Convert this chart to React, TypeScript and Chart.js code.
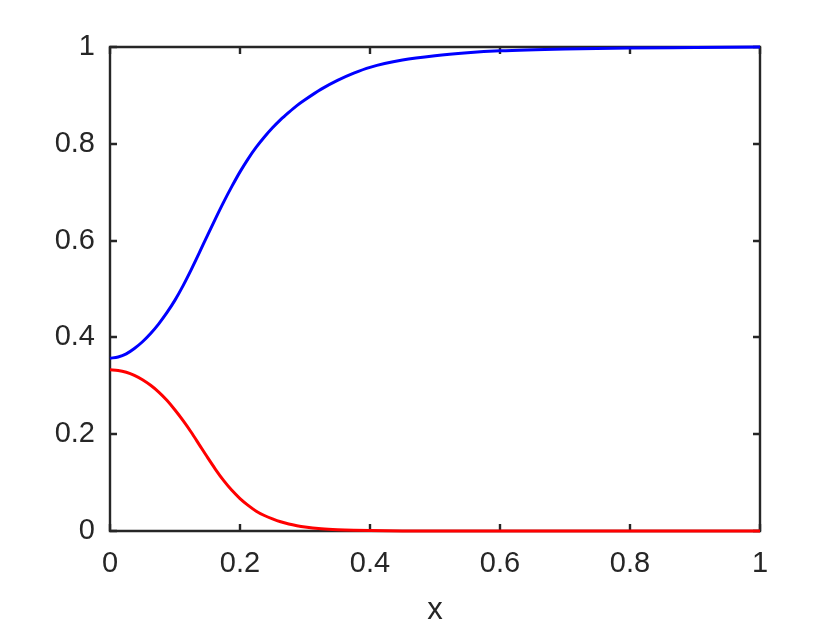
import React, { useEffect, useRef } from "react";
import { Chart, registerables } from "chart.js";

Chart.register(...registerables);

const xValues = [0, 0.0125, 0.025, 0.0375, 0.05, 0.0625, 0.075, 0.0875, 0.1, 0.1125, 0.125, 0.1375, 0.15, 0.1625, 0.175, 0.1875, 0.2, 0.2125, 0.225, 0.2375, 0.25, 0.2625, 0.275, 0.2875, 0.3, 0.325, 0.35, 0.375, 0.4, 0.45, 0.5, 0.55, 0.6, 0.7, 0.8, 0.9, 1.0];
const blueValues = [0.357, 0.3595, 0.366, 0.377, 0.391, 0.408, 0.428, 0.451, 0.477, 0.507, 0.54, 0.575, 0.611, 0.646, 0.68, 0.712, 0.742, 0.769, 0.793, 0.814, 0.833, 0.85, 0.865, 0.879, 0.891, 0.913, 0.931, 0.946, 0.958, 0.973, 0.982, 0.988, 0.992, 0.996, 0.998, 0.999, 1.0];
const redValues = [0.333, 0.3318, 0.328, 0.3215, 0.3125, 0.301, 0.287, 0.27, 0.25, 0.228, 0.204, 0.178, 0.152, 0.127, 0.104, 0.084, 0.067, 0.053, 0.041, 0.032, 0.025, 0.019, 0.0145, 0.011, 0.0083, 0.0047, 0.0026, 0.0014, 0.0008, 0.0002, 0.00005, 0, 0, 0, 0, 0, 0];
const tickValues = [0, 0.2, 0.4, 0.6, 0.8, 1];
const tickLabels = ["0", "0.2", "0.4", "0.6", "0.8", "1"];
const xTitle = "x";

const AXIS_COLOR = "#262626";
const FONT = "'Liberation Sans', Arial, Helvetica, sans-serif";

const framePlugin = {
  id: "matlabFrame",
  beforeDatasetsDraw(chart: any) {
    const { ctx, chartArea, scales } = chart;
    const left = Math.round(chartArea.left);
    const right = Math.round(chartArea.right);
    const top = Math.round(chartArea.top);
    const bottom = Math.round(chartArea.bottom);
    const tl = 7;
    ctx.save();
    ctx.strokeStyle = AXIS_COLOR;
    ctx.lineWidth = 2.4;
    ctx.lineCap = "butt";
    ctx.beginPath();
    for (const v of tickValues) {
      const px = Math.round(scales.x.getPixelForValue(v));
      ctx.moveTo(px, bottom);
      ctx.lineTo(px, bottom - tl);
      ctx.moveTo(px, top);
      ctx.lineTo(px, top + tl);
      const py = Math.round(scales.y.getPixelForValue(v));
      ctx.moveTo(left, py);
      ctx.lineTo(left + tl, py);
      ctx.moveTo(right, py);
      ctx.lineTo(right - tl, py);
    }
    ctx.stroke();
    ctx.beginPath();
    ctx.rect(left, top, right - left, bottom - top);
    ctx.stroke();
    ctx.restore();
  },
};

export default function App() {
  const canvasRef = useRef<HTMLCanvasElement | null>(null);

  useEffect(() => {
    document.body.style.margin = "0";
    const canvas = canvasRef.current;
    if (!canvas) return;
    const labelFor = (v: number) => {
      const i = tickValues.findIndex((t) => Math.abs(t - v) < 1e-9);
      return i >= 0 ? tickLabels[i] : "";
    };
    const chart = new Chart(canvas, {
      type: "line",
      data: {
        datasets: [
          {
            label: "blue",
            data: xValues.map((x, i) => ({ x, y: blueValues[i] })),
            borderColor: "#0000FF",
            borderWidth: 3,
            pointRadius: 0,
            cubicInterpolationMode: "monotone",
            fill: false,
            clip: false as any,
          },
          {
            label: "red",
            data: xValues.map((x, i) => ({ x, y: redValues[i] })),
            borderColor: "#FF0000",
            borderWidth: 3,
            pointRadius: 0,
            cubicInterpolationMode: "monotone",
            fill: false,
            clip: false as any,
          },
        ],
      },
      options: {
        responsive: false,
        animation: false,
        devicePixelRatio: 1,
        layout: { padding: { left: 0, right: 80, top: 47, bottom: 0 } },
        plugins: { legend: { display: false }, tooltip: { enabled: false } },
        scales: {
          x: {
            type: "linear",
            min: 0,
            max: 1,
            grid: { display: false, drawTicks: false, tickLength: 0 },
            border: { display: false },
            afterBuildTicks: (scale: any) => {
              scale.ticks = tickValues.map((v) => ({ value: v }));
            },
            afterFit: (scale: any) => {
              scale.height = 99;
            },
            ticks: {
              autoSkip: false,
              maxRotation: 0,
              padding: 16,
              color: AXIS_COLOR,
              font: { family: FONT, size: 29 },
              callback: (v: any) => labelFor(Number(v)),
            },
            title: {
              display: true,
              text: xTitle,
              color: AXIS_COLOR,
              font: { family: FONT, size: 31 },
              padding: { top: 0, bottom: 1 },
            },
          },
          y: {
            type: "linear",
            min: 0,
            max: 1,
            grid: { display: false, drawTicks: false, tickLength: 0 },
            border: { display: false },
            afterBuildTicks: (scale: any) => {
              scale.ticks = tickValues.map((v) => ({ value: v }));
            },
            afterFit: (scale: any) => {
              scale.width = 110;
            },
            ticks: {
              autoSkip: false,
              padding: 15,
              color: AXIS_COLOR,
              font: { family: FONT, size: 29 },
              callback: (v: any) => labelFor(Number(v)),
            },
          },
        },
      },
      plugins: [framePlugin],
    });
    return () => chart.destroy();
  }, []);

  return (
    <div style={{ position: "absolute", left: 0, top: 0, width: 840, height: 630, background: "#fff" }}>
      <canvas ref={canvasRef} width={840} height={630} style={{ width: 840, height: 630, display: "block" }} />
    </div>
  );
}
